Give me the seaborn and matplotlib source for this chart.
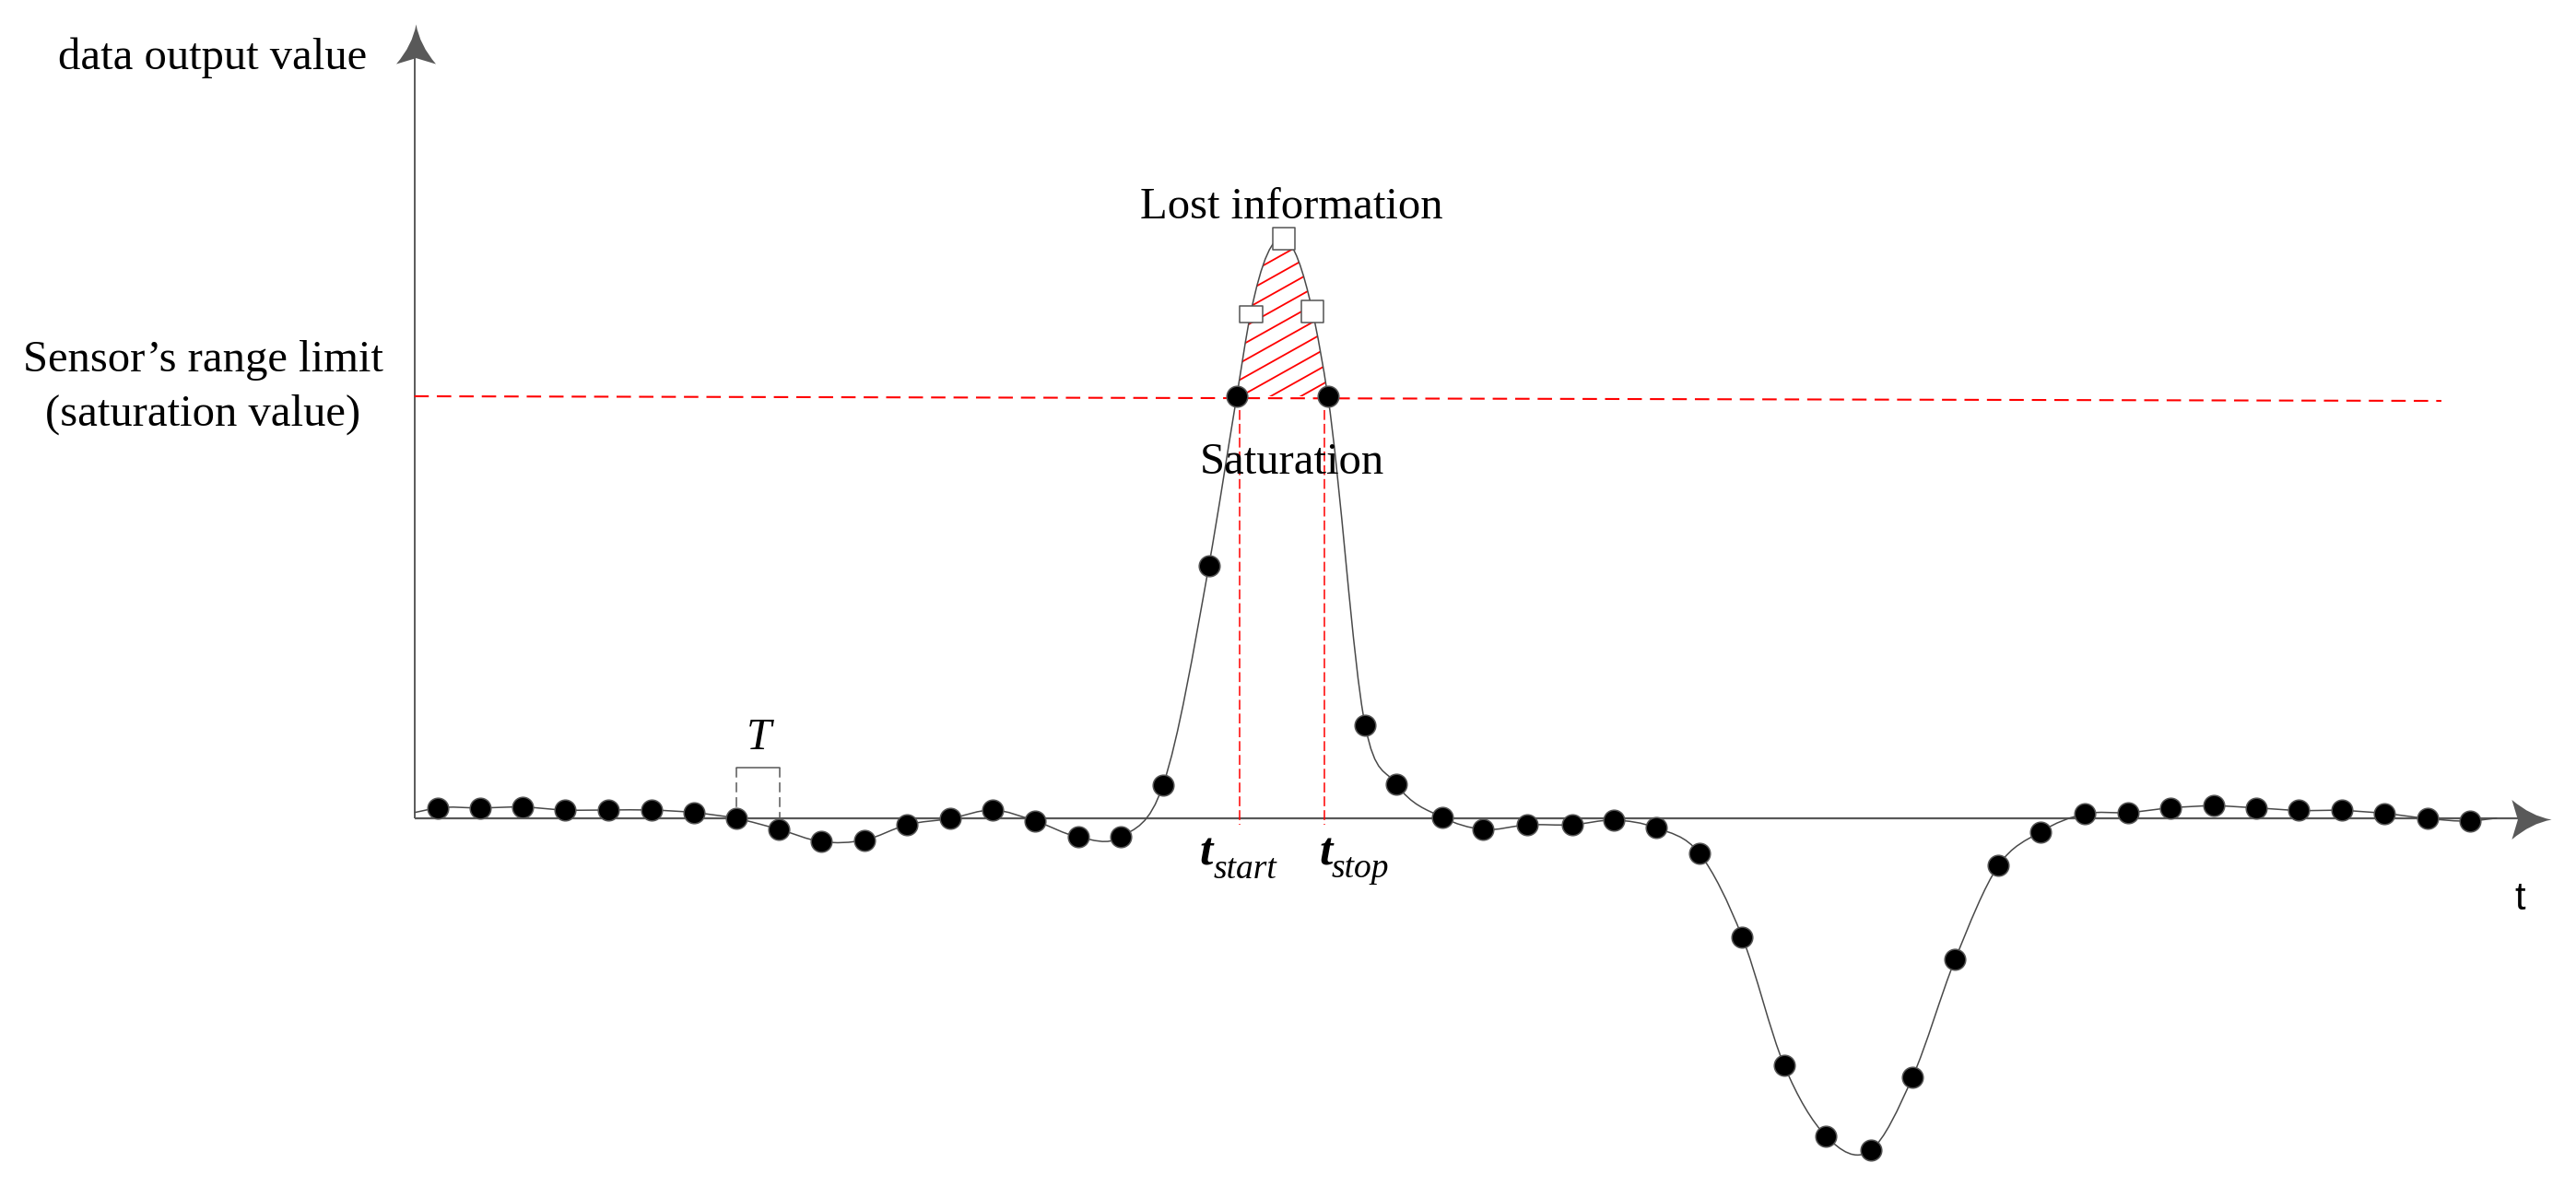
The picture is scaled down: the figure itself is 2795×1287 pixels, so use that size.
import numpy as np
import pandas as pd
import matplotlib
matplotlib.use("Agg")
import matplotlib.pyplot as plt
import seaborn as sns
from matplotlib.path import Path
from matplotlib.patches import PathPatch
from matplotlib.collections import LineCollection

# === DATA (t in sample periods T, value in % of the sensor range limit) ===
left_t = [0.54, 1.54, 2.53, 3.53, 4.53, 5.54, 6.53, 7.53, 8.53, 9.52,
          10.53, 11.52, 12.54, 13.53, 14.52, 15.53, 16.52, 17.51]
left_v = [2.4, 2.4, 2.6, 1.9, 1.9, 1.9, 1.3, -0.1, -2.7, -5.6,
          -5.2, -1.6, -0.1, 1.9, -0.7, -4.5, -4.5, 7.9]

peak_t = [18.58, 19.23, 21.36, 22.23, 22.96]
peak_v = [59.9, 100.0, 100.0, 22.1, 8.1]

right_t = [24.03, 24.98, 26.03, 27.07, 28.05, 29.03, 30.05, 31.05, 32.03, 33.01,
           34.05, 35.03, 36.03, 37.04, 38.02, 39.07, 40.07, 41.07, 42.07, 43.07,
           44.07, 45.07, 46.07, 47.07, 48.07]
right_v = [0.2, -2.7, -1.6, -1.6, -0.5, -2.3, -8.4, -28.2, -58.6, -75.4,
           -78.8, -61.5, -33.5, -11.3, -3.3, 1.0, 1.3, 2.4, 2.9, 2.4,
           1.8, 1.8, 1.1, -0.1, -0.7]

# samples lost above the limit
lost_t = [19.55, 20.34, 21.00]
lost_v = [119.4, 137.4, 120.2]

# where the drawn curve starts / ends (no sample there)
curve_start = [0.0, 1.3]
curve_end = [48.7, 0.0]

# sensor range limit line
sat_t = [0.0, 47.4]
sat_v = [100.0, 98.9]

t_start = 19.29
t_stop = 21.27
period_t = [7.53, 8.55]

# === LAYOUT (pixels of the 2795x1287 picture) ===
W, H = 2795, 1287
X0, SX = 449.6, 46.4     # column of the value axis, pixels per T
Y0, SY = 887.7, 4.577    # row of the time axis, pixels per value unit
AXIS_C = "#595959"
LINE_C = "#4a4a4a"
SERIF = ["Liberation Serif", "DejaVu Serif"]
SANS = ["Liberation Sans", "DejaVu Sans"]

sns.set_style("white")
plt.rcParams["font.family"] = SERIF
plt.rcParams["text.color"] = "black"

dots = pd.DataFrame({"t": left_t + peak_t + right_t, "v": left_v + peak_v + right_v})
lost = pd.DataFrame({"t": lost_t, "v": lost_v})

fig = plt.figure(figsize=(W / 100, H / 100), dpi=100)
ax = fig.add_axes([0, 0, 1, 1])
ax.set_xlim(-X0 / SX, (W - X0) / SX)
ax.set_ylim(-(H - Y0) / SY, Y0 / SY)
ax.set_axis_off()

# === AXES WITH SWEPT ARROW HEADS ===
head_v = [(0, 0), (-0.52, 0.09), (-1, 0.5), (-0.85, 0), (-1, -0.5), (-0.52, -0.09), (0, 0), (0, 0)]
head_c = [Path.MOVETO, Path.CURVE3, Path.CURVE3, Path.LINETO, Path.LINETO,
          Path.CURVE3, Path.CURVE3, Path.CLOSEPOLY]
head_right = Path(head_v, head_c)
head_up = Path([(-y, x) for x, y in head_v], head_c)

ax.plot([0, 0], [0, 183], color=AXIS_C, lw=1.4, zorder=1, solid_capstyle="butt")
ax.plot([0, 49.4], [0, 0], color=AXIS_C, lw=1.6, zorder=1, solid_capstyle="butt")
ax.plot([49.97], [-0.3], marker=head_right, ms=62, color=AXIS_C, mew=0, zorder=2)
ax.plot([0.03], [188.3], marker=head_up, ms=62, color=AXIS_C, mew=0, zorder=2)

# === SMOOTH SIGNAL CURVE (cubic Hermite through the samples, drawn as Bezier) ===
pts = sorted(zip([curve_start[0]] + dots["t"].tolist() + lost_t + [curve_end[0]],
                 [curve_start[1]] + dots["v"].tolist() + lost_v + [curve_end[1]]))
ct = np.array([p[0] for p in pts])
cv = np.array([p[1] for p in pts])
h = np.diff(ct)
d = np.diff(cv) / h
m = np.empty_like(cv)
m[0], m[-1] = d[0], d[-1]
m[1:-1] = (d[:-1] * h[1:] + d[1:] * h[:-1]) / (h[:-1] + h[1:])


def bezier(i0, i1):
    verts = [(ct[i0], cv[i0])]
    for i in range(i0, i1):
        verts += [(ct[i] + h[i] / 3, cv[i] + m[i] * h[i] / 3),
                  (ct[i + 1] - h[i] / 3, cv[i + 1] - m[i + 1] * h[i] / 3),
                  (ct[i + 1], cv[i + 1])]
    return verts


curve_verts = bezier(0, len(ct) - 1)
curve_path = Path(curve_verts, [Path.MOVETO] + [Path.CURVE4] * (len(curve_verts) - 1))
ax.add_patch(PathPatch(curve_path, fill=False, edgecolor=LINE_C, lw=1.1, zorder=3))

# === LOST INFORMATION AREA (red hatch above the limit) ===
i_a = int(np.where(ct == peak_t[1])[0][0])
i_b = int(np.where(ct == peak_t[2])[0][0])
area_verts = bezier(i_a, i_b) + [(ct[i_a], cv[i_a]), (ct[i_a], cv[i_a])]
area_codes = [Path.MOVETO] + [Path.CURVE4] * (3 * (i_b - i_a)) + [Path.LINETO, Path.CLOSEPOLY]
area = PathPatch(Path(area_verts, area_codes), facecolor="none", edgecolor="none", zorder=2)
ax.add_patch(area)
slope = 0.56 * SX / SY
segs = [[(18.0, 100 + slope * (18.0 - 20.73) + 4.0 * n), (23.0, 100 + slope * (23.0 - 20.73) + 4.0 * n)]
        for n in range(-20, 20)]
hatch = LineCollection(segs, colors="red", linewidths=1.3, zorder=2)
ax.add_collection(hatch)
hatch.set_clip_path(area)

# === SATURATION LIMIT AND t_start / t_stop MARKERS ===
sns.lineplot(x=sat_t, y=sat_v, ax=ax, color="red", lw=1.5, linestyle=(0, (7.5, 4.2)),
             zorder=2, legend=False)
for tx in (t_start, t_stop):
    ax.plot([tx, tx], [100, -1.5], color="red", lw=1.1, linestyle=(0, (7, 2.8)), zorder=2)

# === SAMPLE PERIOD BRACKET ===
ax.plot(period_t, [12.0, 12.0], color=AXIS_C, lw=1.1, zorder=2)
for tx in period_t:
    ax.plot([tx, tx], [12.0, 0], color=AXIS_C, lw=1.1, linestyle=(0, (7, 3.5)), zorder=2)

# === SAMPLES ===
sns.scatterplot(data=dots, x="t", y="v", ax=ax, color="black", edgecolor="#555555",
                linewidth=1.1, s=265, zorder=5, legend=False)
sns.scatterplot(data=lost.iloc[1:], x="t", y="v", ax=ax, marker="s", color="white",
                edgecolor="#555555", linewidth=1.1, s=300, zorder=6, legend=False)
flat_box = Path([(-0.5, -0.37), (0.5, -0.37), (0.5, 0.37), (-0.5, 0.37), (-0.5, -0.37)],
                [Path.MOVETO, Path.LINETO, Path.LINETO, Path.LINETO, Path.CLOSEPOLY])
sns.scatterplot(data=lost.iloc[:1], x="t", y="v", ax=ax, marker=flat_box, color="white",
                edgecolor="#555555", linewidth=1.1, s=324, zorder=6, legend=False)

# === TEXT ===
ax.text(-4.71, 177.6, "data output value", fontsize=35, ha="center", va="baseline")
ax.text(-4.93, 105.9, "Sensor\u2019s range limit", fontsize=35, ha="center", va="baseline")
ax.text(-4.94, 93.1, "(saturation value)", fontsize=35, ha="center", va="baseline")
ax.text(20.52, 142.2, "Lost information", fontsize=35, ha="center", va="baseline")
ax.text(20.53, 81.6, "Saturation", fontsize=35, ha="center", va="baseline")
ax.text(8.05, 16.4, "T", fontsize=35, style="italic", ha="center", va="baseline")

ax.text(18.35, -11.0, "t", fontsize=37, style="italic", weight="bold", ha="left", va="baseline")
ax.text(18.68, -14.3, "start", fontsize=27, style="italic", ha="left", va="baseline")
ax.text(21.15, -11.0, "t", fontsize=37, style="italic", weight="bold", ha="left", va="baseline")
ax.text(21.45, -14.0, "stop", fontsize=27, style="italic", ha="left", va="baseline")
ax.text(49.23, -21.6, "t", fontsize=30, family=SANS, ha="center", va="baseline")

fig.savefig("out.png", dpi=100, facecolor="white")
